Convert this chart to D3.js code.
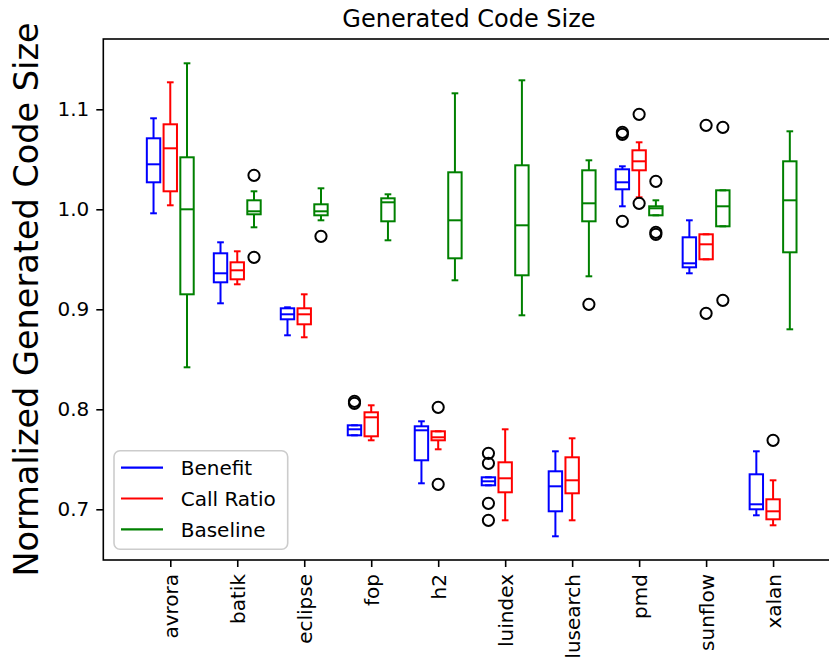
<!DOCTYPE html>
<html>
<head>
<meta charset="utf-8">
<script src="https://cdn.jsdelivr.net/npm/d3@7"></script>
<style>
html,body{margin:0;padding:0;background:#fff;}
svg{display:block;}
text{font-family:"DejaVu Sans",sans-serif;}
</style>
</head>
<body>
<svg id="chart" width="829" height="666"></svg>
<script>
// ---- data ----
const categories = ["avrora","batik","eclipse","fop","h2","luindex","lusearch","pmd","sunflow","xalan"];
const yTicks = [0.7, 0.8, 0.9, 1.0, 1.1];
const seriesNames = ["Benefit", "Call Ratio", "Baseline"];
const seriesColors = ["#0000ff", "#ff0000", "#008000"];

// [whiskerLow, Q1, median, Q3, whiskerHigh]
const benefitStats = [
  [0.996, 1.027, 1.045, 1.071, 1.091],
  [0.906, 0.927, 0.936, 0.956, 0.967],
  [0.874, 0.890, 0.895, 0.901, 0.902],
  [0.774, 0.774, 0.780, 0.784, 0.784],
  [0.726, 0.749, 0.779, 0.783, 0.788],
  [0.724, 0.724, 0.728, 0.732, 0.732],
  [0.673, 0.698, 0.723, 0.738, 0.758],
  [1.003, 1.020, 1.027, 1.040, 1.043],
  [0.936, 0.942, 0.946, 0.972, 0.989],
  [0.694, 0.700, 0.705, 0.735, 0.758]
];
const benefitFliers = [[], [], [], [0.808, 0.806], [], [0.756, 0.746, 0.706, 0.689], [], [1.077, 1.075, 0.988], [], []];

const callRatioStats = [
  [1.004, 1.018, 1.061, 1.085, 1.127],
  [0.925, 0.930, 0.939, 0.947, 0.958],
  [0.872, 0.885, 0.895, 0.901, 0.915],
  [0.769, 0.773, 0.792, 0.797, 0.804],
  [0.760, 0.769, 0.772, 0.778, 0.778],
  [0.689, 0.717, 0.731, 0.747, 0.780],
  [0.689, 0.716, 0.729, 0.752, 0.771],
  [1.012, 1.039, 1.048, 1.059, 1.067],
  [0.950, 0.950, 0.965, 0.975, 0.975],
  [0.684, 0.690, 0.698, 0.710, 0.729]
];
const callRatioFliers = [[], [], [], [], [0.802, 0.725], [], [], [1.095, 1.006], [1.084, 0.896], [0.769]];

const baselineStats = [
  [0.842, 0.915, 1.000, 1.052, 1.146],
  [0.982, 0.995, 0.998, 1.009, 1.018],
  [0.989, 0.994, 0.998, 1.005, 1.021],
  [0.969, 0.988, 1.007, 1.011, 1.015],
  [0.929, 0.951, 0.989, 1.037, 1.116],
  [0.894, 0.934, 0.984, 1.044, 1.129],
  [0.933, 0.988, 1.006, 1.039, 1.049],
  [0.994, 0.994, 1.001, 1.003, 1.009],
  [0.983, 0.983, 1.003, 1.019, 1.019],
  [0.880, 0.957, 1.009, 1.048, 1.078]
];
const baselineFliers = [[], [1.034, 0.952], [0.973], [], [], [], [0.905], [1.028, 0.977, 0.975], [1.082, 0.909], []];

// ---- layout ----
const plotLeft = 103.3, plotRight = 834.7, plotTop = 39, plotBottom = 560;
const svg = d3.select("#chart");
const x = d3.scaleLinear().domain([-1, 9.92]).range([plotLeft, plotRight]);
const y = d3.scaleLinear().domain([0.7, 1.1]).range([509.3, 109.3]);

const series = [
  {name: seriesNames[0], color: seriesColors[0], offset: -0.25, stats: benefitStats, fliers: benefitFliers},
  {name: seriesNames[1], color: seriesColors[1], offset: 0, stats: callRatioStats, fliers: callRatioFliers},
  {name: seriesNames[2], color: seriesColors[2], offset: 0.25, stats: baselineStats, fliers: baselineFliers}
];
const boxW = 0.2;

const g = svg.append("g");
series.forEach(s => {
  s.stats.forEach((st, i) => {
    const [lo, q1, med, q3, hi] = st;
    const cx = x(i + s.offset);
    const hw = x(i + s.offset + boxW / 2) - cx;
    const bg = g.append("g").attr("stroke", s.color).attr("stroke-width", 2).attr("fill", "none");
    bg.append("line").attr("x1", cx).attr("x2", cx).attr("y1", y(q3)).attr("y2", y(hi));
    bg.append("line").attr("x1", cx).attr("x2", cx).attr("y1", y(q1)).attr("y2", y(lo));
    bg.append("line").attr("x1", cx - hw / 2).attr("x2", cx + hw / 2).attr("y1", y(hi)).attr("y2", y(hi));
    bg.append("line").attr("x1", cx - hw / 2).attr("x2", cx + hw / 2).attr("y1", y(lo)).attr("y2", y(lo));
    bg.append("rect").attr("x", cx - hw).attr("width", 2 * hw)
      .attr("y", y(q3)).attr("height", y(q1) - y(q3));
    bg.append("line").attr("x1", cx - hw).attr("x2", cx + hw).attr("y1", y(med)).attr("y2", y(med));
    s.fliers[i].forEach(v => {
      g.append("circle").attr("cx", cx).attr("cy", y(v)).attr("r", 5.6)
        .attr("fill", "none").attr("stroke", "#000").attr("stroke-width", 2);
    });
  });
});

// ---- axes ----
const yAxis = svg.append("g").attr("transform", `translate(${plotLeft},0)`)
  .call(d3.axisLeft(y).tickValues(yTicks).tickFormat(d3.format(".1f")).tickSize(7).tickPadding(7));
yAxis.select(".domain").remove();
yAxis.selectAll("line").attr("stroke", "#000").attr("stroke-width", 1.6);
yAxis.selectAll("text").attr("font-size", 20).attr("fill", "#000").attr("font-family", "DejaVu Sans");

const xAxis = svg.append("g").attr("transform", `translate(0,${plotBottom})`)
  .call(d3.axisBottom(x).tickValues(d3.range(categories.length)).tickFormat(i => categories[i]).tickSize(7));
xAxis.select(".domain").remove();
xAxis.selectAll("line").attr("stroke", "#000").attr("stroke-width", 1.6);
xAxis.selectAll("text")
  .attr("font-size", 20).attr("fill", "#000").attr("font-family", "DejaVu Sans")
  .attr("text-anchor", "end")
  .attr("transform", "translate(0,14) rotate(-90)")
  .attr("x", 0).attr("y", 0).attr("dy", "0.35em");

// spines
svg.append("rect").attr("x", plotLeft).attr("y", plotTop).attr("width", plotRight - plotLeft).attr("height", plotBottom - plotTop)
  .attr("fill", "none").attr("stroke", "#000").attr("stroke-width", 1.6);

// title and y label
svg.append("text").attr("x", (plotLeft + plotRight) / 2).attr("y", 27).attr("text-anchor", "middle")
  .attr("font-size", 24).attr("fill", "#000").text("Generated Code Size");
svg.append("text").attr("transform", `translate(38,${(plotTop + plotBottom) / 2}) rotate(-90)`)
  .attr("text-anchor", "middle").attr("font-size", 33.5).attr("fill", "#000")
  .text("Normalized Generated Code Size");

// ---- legend ----
const lg = svg.append("g");
lg.append("rect").attr("x", 114).attr("y", 450.7).attr("width", 173.7).attr("height", 98.6)
  .attr("rx", 6).attr("ry", 6).attr("fill", "#fff").attr("fill-opacity", 0.8)
  .attr("stroke", "#cccccc").attr("stroke-width", 1.6);
const legY = d3.scalePoint().domain(seriesNames).range([467.7, 529.3]);
series.forEach(s => {
  lg.append("line").attr("x1", 121).attr("x2", 163).attr("y1", legY(s.name)).attr("y2", legY(s.name))
    .attr("stroke", s.color).attr("stroke-width", 2.2);
  lg.append("text").attr("x", 180.7).attr("y", legY(s.name)).attr("dy", "0.36em")
    .attr("font-size", 20).attr("fill", "#000").text(s.name);
});
</script>
</body>
</html>
